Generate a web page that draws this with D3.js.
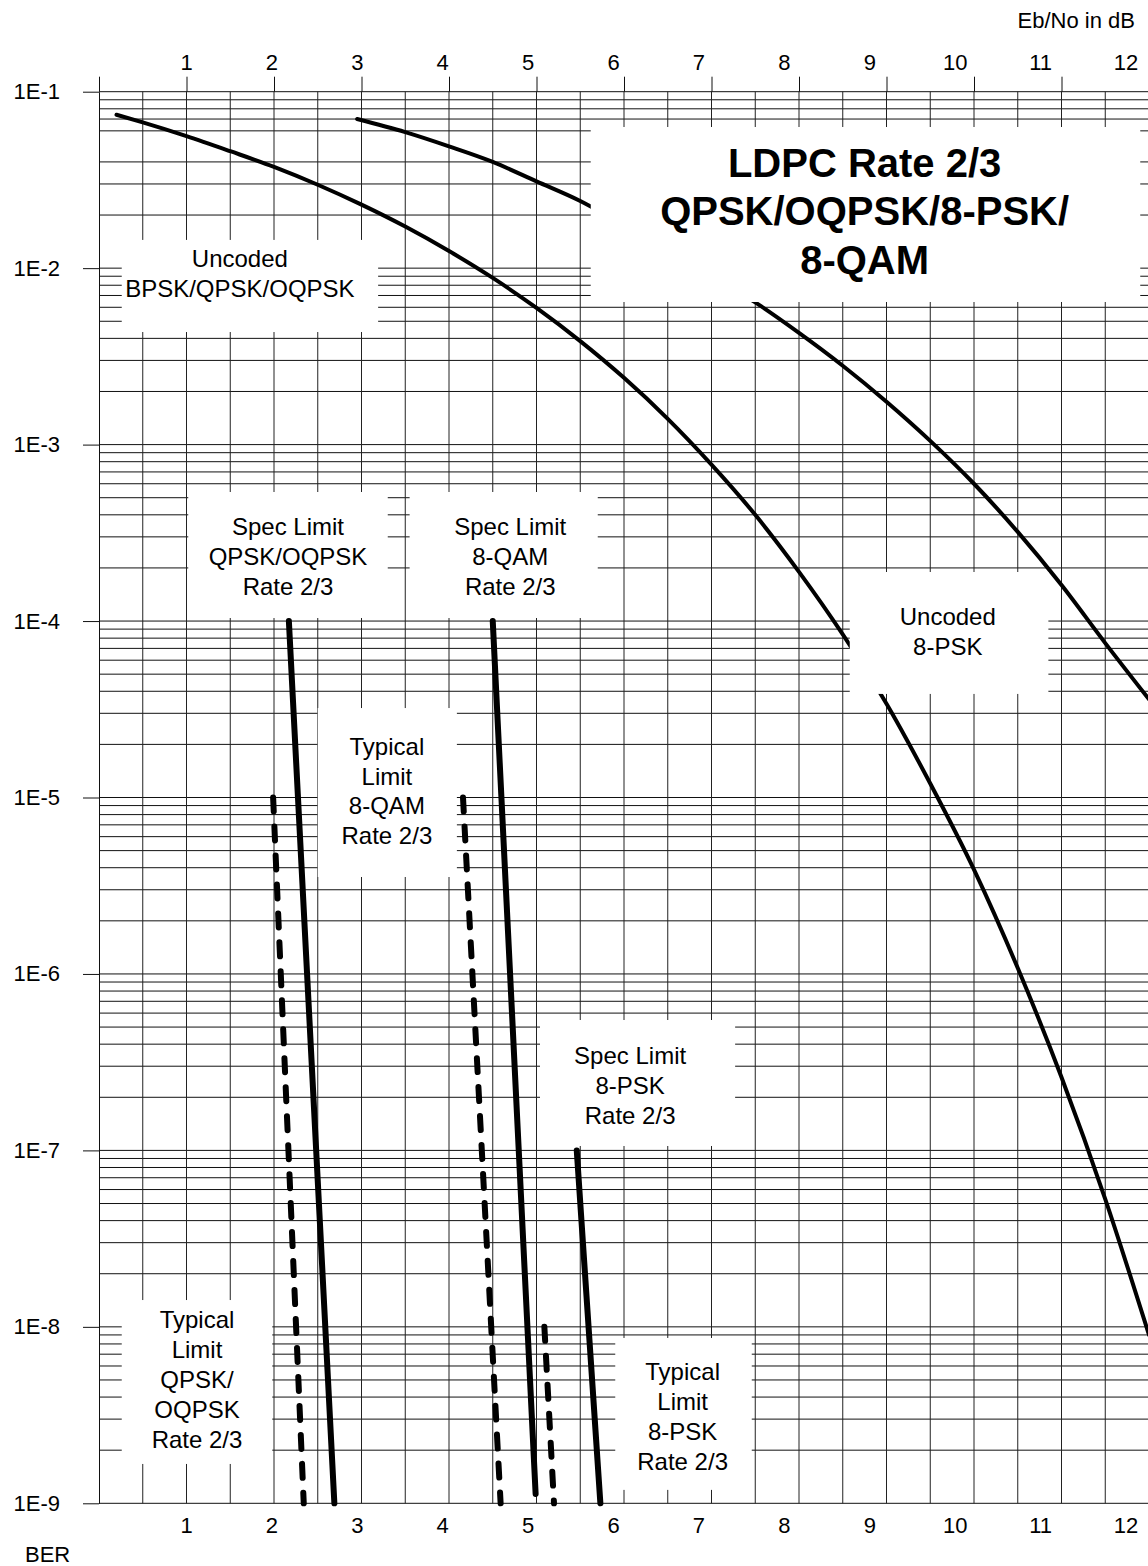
<!DOCTYPE html>
<html><head><meta charset="utf-8">
<script src="https://cdn.jsdelivr.net/npm/d3@7"></script>
<style>
html,body{margin:0;padding:0;background:#fff;}
svg{display:block;font-family:"Liberation Sans",Arial,Helvetica,sans-serif;}
</style>
</head><body>
<svg id="chart" width="1148" height="1566"></svg>
<script>
// ---------- DATA ----------
const xTickValues = [1,2,3,4,5,6,7,8,9,10,11,12];
const yDecadeValues = [1e-1,1e-2,1e-3,1e-4,1e-5,1e-6,1e-7,1e-8,1e-9];
const yTickLabels = ["1E-1","1E-2","1E-3","1E-4","1E-5","1E-6","1E-7","1E-8","1E-9"];

// Uncoded BPSK/QPSK/OQPSK
const bpskDb  = [0.2,0.5,1,1.5,2,2.5,3,3.5,4,4.5,5,5.5,6,6.5,7,7.5,8,8.5,9,9.5,10,10.5,11,11.5,12];
const bpskBer = [7.4e-2,6.7e-2,5.6e-2,4.6e-2,3.75e-2,2.97e-2,2.29e-2,1.72e-2,1.25e-2,8.8e-3,5.95e-3,3.86e-3,2.39e-3,1.4e-3,7.7e-4,4.0e-4,1.9e-4,8.4e-5,3.4e-5,1.2e-5,3.9e-6,1.08e-6,2.6e-7,5.3e-8,9.0e-9];

// Uncoded 8-PSK
const psk8Db  = [2.95,3.5,4,4.5,5,5.5,6,6.5,7,7.5,8,8.5,9,9.5,10,10.5,11,11.5,12];
const psk8Ber = [7.0e-2,5.9e-2,4.9e-2,4.0e-2,3.1e-2,2.4e-2,1.75e-2,1.28e-2,9.0e-3,6.4e-3,4.3e-3,2.8e-3,1.75e-3,1.05e-3,6.0e-4,3.2e-4,1.6e-4,7.5e-5,3.6e-5];

// LDPC rate 2/3 limits
const specQpskDb = [2.17,2.69],  specQpskBer = [1e-4,1e-9];
const typQpskDb  = [1.99,2.34],  typQpskBer  = [1e-5,1e-9];
const spec8qamDb = [4.50,4.99],  spec8qamBer = [1e-4,1.13e-9];
const typ8qamDb  = [4.16,4.59],  typ8qamBer  = [1e-5,1e-9];
const spec8pskDb = [5.46,5.73],  spec8pskBer = [1e-7,1e-9];
const typ8pskDb  = [5.09,5.20],  typ8pskBer  = [1e-8,1e-9];

const titleLines = ["LDPC Rate 2/3","QPSK/OQPSK/8-PSK/","8-QAM"];
const xAxisTitle = "Eb/No in dB";
const yAxisTitle = "BER";

// ---------- LAYOUT ----------
const svg = d3.select("#chart");
svg.append("rect").attr("width",1148).attr("height",1566).attr("fill","#fff");

const x = d3.scaleLinear().domain([0,12]).range([99,1149]);
const y = d3.scaleLog().domain([1e-1,1e-9]).range([91.7,1503.3]);
// tick labels in the original are laid out on a slightly narrower spacing
const xLabel = d3.scaleLinear().domain([1,12]).range([186,1125.5]);

const gGrid = svg.append("g");
// horizontal grid (log minor lines)
const gridY = y.ticks().filter(v => v <= 1e-1*1.0001 && v >= 1e-9*0.9999 && Math.abs(v/5e-2 - 1) > 1e-6);
gGrid.selectAll("line.h").data(gridY).join("line")
  .attr("x1", x(0)).attr("x2", x(12))
  .attr("y1", d => y(d)).attr("y2", d => y(d))
  .attr("stroke","#111").attr("stroke-width",1);
// vertical grid every 0.5 dB
gGrid.selectAll("line.v").data(d3.range(0.5,12.001,0.5)).join("line")
  .attr("x1", d => x(d)).attr("x2", d => x(d))
  .attr("y1", y(1e-1)).attr("y2", y(1e-9))
  .attr("stroke","#222").attr("stroke-width",1);

// left axis
const leftAxis = d3.axisLeft(y).tickValues(yDecadeValues).tickSize(16).tickSizeOuter(0).tickPadding(23)
  .tickFormat((d,i) => yTickLabels[i]);
const gL = svg.append("g").attr("transform",`translate(${x(0)},0)`).call(leftAxis);
gL.select(".domain").attr("stroke","#111");
gL.selectAll(".tick line").attr("stroke","#111");
gL.selectAll("text").attr("font-size",22).attr("fill","#000").attr("font-family","Liberation Sans, Arial, sans-serif");

// top axis
const topAxis = d3.axisTop(x).tickValues([0].concat(xTickValues)).tickSize(15).tickSizeOuter(0).tickPadding(7)
  .tickFormat(d => d === 0 ? "" : d);
const gT = svg.append("g").attr("transform",`translate(0,${y(1e-1)})`).call(topAxis);
gT.select(".domain").remove();
gT.selectAll(".tick line").attr("stroke","#111");
gT.selectAll("text").attr("font-size",22).attr("fill","#000").attr("font-family","Liberation Sans, Arial, sans-serif")
  .attr("x", d => d === 0 ? 0 : xLabel(d) - x(d));

// bottom axis (labels only)
const botAxis = d3.axisBottom(x).tickValues(xTickValues).tickSize(0).tickPadding(14.4);
const gB = svg.append("g").attr("transform",`translate(0,${y(1e-9)})`).call(botAxis);
gB.select(".domain").remove();
gB.selectAll("text").attr("font-size",22).attr("fill","#000").attr("font-family","Liberation Sans, Arial, sans-serif")
  .attr("x", d => xLabel(d) - x(d));

// axis titles
svg.append("text").attr("x",1135).attr("y",28).attr("text-anchor","end").attr("font-size",22).text(xAxisTitle);
svg.append("text").attr("x",25).attr("y",1562).attr("font-size",22).text(yAxisTitle);

// ---------- CURVES ----------
const line = d3.line().x(d => x(d[0])).y(d => y(d[1])).curve(d3.curveMonotoneX);
const zip = (a,b) => a.map((v,i) => [v,b[i]]);
const gC = svg.append("g").attr("fill","none").attr("stroke","#000").attr("stroke-linecap","round").attr("stroke-linejoin","round");
gC.append("path").attr("d", line(zip(bpskDb,bpskBer))).attr("stroke-width",4);
gC.append("path").attr("d", line(zip(psk8Db,psk8Ber))).attr("stroke-width",4);

const straight = d3.line().x(d => x(d[0])).y(d => y(d[1]));
[[specQpskDb,specQpskBer],[spec8qamDb,spec8qamBer],[spec8pskDb,spec8pskBer]].forEach(([a,b]) => {
  gC.append("path").attr("d", straight(zip(a,b))).attr("stroke-width",6);
});
[[typQpskDb,typQpskBer],[typ8qamDb,typ8qamBer],[typ8pskDb,typ8pskBer]].forEach(([a,b]) => {
  gC.append("path").attr("d", straight(zip(a,b))).attr("stroke-width",6).attr("stroke-dasharray","14,15");
});

// ---------- ANNOTATION BOXES (in data units: dB and log10(BER)) ----------
const notes = [
  {lines:["Uncoded","BPSK/QPSK/OQPSK"], box:[0.26,3.19,-1.840,-2.362], cx:1.61, base:-1.9935, lh:30},
  {lines:["Spec Limit","QPSK/OQPSK","Rate 2/3"], box:[1.02,3.30,-3.2686,-3.9827], cx:2.16, base:-3.5123, lh:30},
  {lines:["Spec Limit","8-QAM","Rate 2/3"], box:[3.55,5.70,-3.2686,-3.9827], cx:4.70, base:-3.5123, lh:30},
  {lines:["Typical","Limit","8-QAM","Rate 2/3"], box:[2.50,4.09,-4.493,-5.4505], cx:3.29, base:-4.7591, lh:29.7},
  {lines:["Uncoded","8-PSK"], box:[8.58,10.85,-3.722,-4.413], cx:9.70, base:-4.0224, lh:30},
  {lines:["Spec Limit","8-PSK","Rate 2/3"], box:[5.04,7.27,-6.261,-6.975], cx:6.07, base:-6.510, lh:30},
  {lines:["Typical","Limit","QPSK/","OQPSK","Rate 2/3"], box:[0.26,1.98,-7.848,-8.777], cx:1.12, base:-8.0065, lh:30},
  {lines:["Typical","Limit","8-PSK","Rate 2/3"], box:[5.90,7.46,-8.063,-8.924], cx:6.67, base:-8.301, lh:30}
];
const gN = svg.append("g");
notes.forEach(n => {
  const [a,b,e0,e1] = n.box;
  gN.append("rect").attr("x",x(a)).attr("y",y(10**e0)).attr("width",x(b)-x(a)).attr("height",y(10**e1)-y(10**e0)).attr("fill","#fff");
  n.lines.forEach((t,i) => {
    gN.append("text").attr("x",x(n.cx)).attr("y",y(10**n.base)+i*n.lh).attr("text-anchor","middle")
      .attr("font-size",24).attr("fill","#000").text(t);
  });
});

// title box
gN.append("rect").attr("x",x(5.62)).attr("y",y(10**-1.2001)).attr("width",x(11.90)-x(5.62))
  .attr("height",y(10**-2.1918)-y(10**-1.2001)).attr("fill","#fff");
titleLines.forEach((t,i) => {
  gN.append("text").attr("x",x(8.75)).attr("y",y(10**-1.4834)+i*48.5).attr("text-anchor","middle")
    .attr("font-size",40).attr("font-weight","bold").attr("fill","#000").text(t);
});
</script>
</body></html>
